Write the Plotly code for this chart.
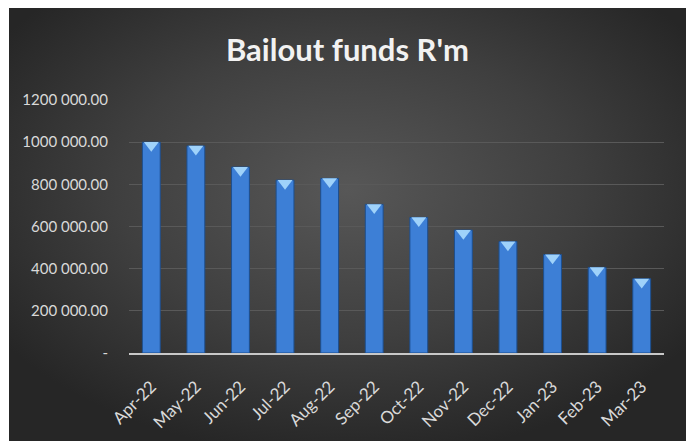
import base64
import plotly.graph_objects as go

# ---- data ----
months = ["Apr-22", "May-22", "Jun-22", "Jul-22", "Aug-22", "Sep-22",
          "Oct-22", "Nov-22", "Dec-22", "Jan-23", "Feb-23", "Mar-23"]
funds = [1000000, 982000, 882000, 820000, 828000, 705000,
         643000, 583000, 529000, 467000, 406000, 352000]
y_tick_vals = [0, 200000, 400000, 600000, 800000, 1000000, 1200000]
y_tick_text = ["-", "200 000.00", "400 000.00", "600 000.00",
               "800 000.00", "1000 000.00", "1200 000.00"]
title_text = "Bailout funds R'm"

# ---- style ----
W, H = 692, 441
ML, MR, MT, MB = 129, 28, 100, 88
FONT = "Lato"
TRI_OFFSET = 15000  # shift highlight so its flat edge sits at the bar top

svg = f'''<svg xmlns="http://www.w3.org/2000/svg" width="677" height="433" viewBox="0 0 677 433" preserveAspectRatio="none">
<defs><radialGradient id="g" cx="50%" cy="42%" r="62%">
<stop offset="0%" stop-color="#575757"/>
<stop offset="55%" stop-color="#3f3f3f"/>
<stop offset="100%" stop-color="#262626"/>
</radialGradient></defs>
<rect width="677" height="433" fill="url(#g)"/></svg>'''
src = "data:image/svg+xml;base64," + base64.b64encode(svg.encode()).decode()

pw = W - ML - MR
ph = H - MT - MB
def px_x(px):
    return (px - ML) / pw
def px_y(py):
    return (H - MB - py) / ph

fig = go.Figure()
fig.add_trace(go.Bar(
    x=months, y=funds,
    marker=dict(color="#3d7fd6", line=dict(color="#1d4f8f", width=1)),
    width=0.4,
    hoverinfo="x+y",
))
fig.add_trace(go.Scatter(
    x=months, y=[v - TRI_OFFSET for v in funds],
    mode="markers",
    marker=dict(symbol="triangle-down", size=13, color="#9fd2fa",
                line=dict(width=0)),
    hoverinfo="skip",
))

fig.add_layout_image(dict(
    source=src, xref="paper", yref="paper",
    x=px_x(9), y=px_y(8), sizex=px_x(686) - px_x(9), sizey=px_y(8) - px_y(441),
    xanchor="left", yanchor="top", sizing="stretch", layer="below",
))

fig.update_layout(
    width=W, height=H,
    margin=dict(l=ML, r=MR, t=MT, b=MB, autoexpand=False),
    paper_bgcolor="white",
    plot_bgcolor="rgba(0,0,0,0)",
    showlegend=False,
    bargap=0.6,
    title=dict(text=f"<b>{title_text}</b>", x=347.5 / W, xref="container",
               xanchor="center", y=1 - 50 / H, yanchor="middle", yref="container",
               font=dict(family=FONT, size=31, color="#f2f2f2")),
    font=dict(family=FONT, color="#d9d9d9"),
)
fig.update_xaxes(
    type="category", range=[-0.5, len(months) - 0.5],
    showline=True, linecolor="#c8c8c8", linewidth=2,
    showgrid=False, ticks="", tickangle=-45, ticklabelstandoff=15,
    tickfont=dict(family=FONT, size=17, color="#d9d9d9"),
)
fig.update_yaxes(
    range=[0, 1200000], tickvals=y_tick_vals, ticktext=y_tick_text,
    showgrid=True, gridcolor="#595959", gridwidth=1, zeroline=False,
    showline=False, ticks="", ticklabelstandoff=20,
    tickfont=dict(family=FONT, size=15, color="#d9d9d9"),
)

fig.write_html("out.html")
